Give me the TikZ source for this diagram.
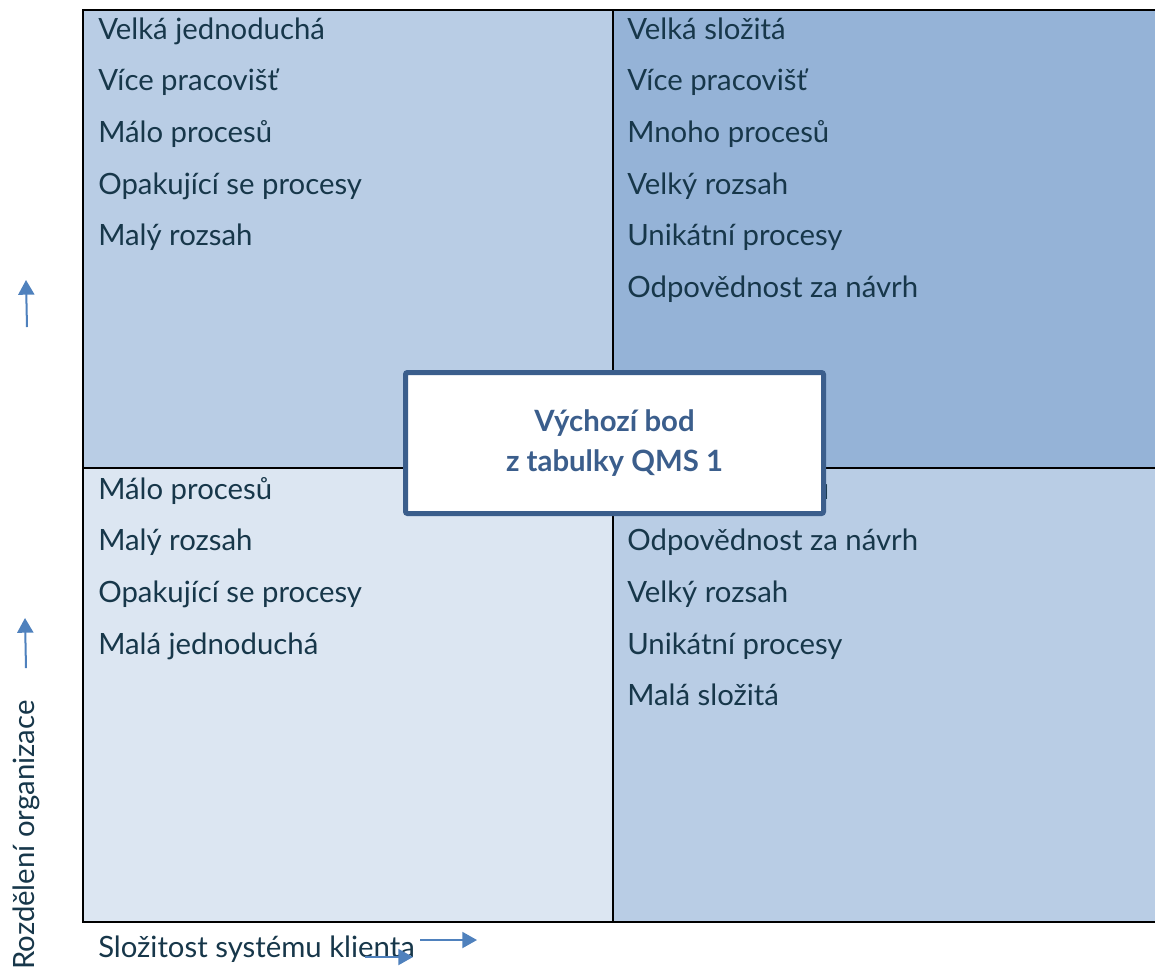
\documentclass[tikz,border=0pt]{standalone}
\usepackage{fontspec}
\setmainfont{Lato}
\usetikzlibrary{arrows.meta}
\definecolor{qlight}{HTML}{DCE6F2}
\definecolor{qmid}{HTML}{B9CDE5}
\definecolor{qdark}{HTML}{95B3D7}
\definecolor{txtdark}{HTML}{17374A}
\definecolor{boxblue}{HTML}{3B5E8C}
\definecolor{arrowblue}{HTML}{4F81BD}
% one list of lines in a quadrant: name, x, first baseline, lines
\newcommand{\quadlist}[4]{
	\foreach \t [count=\i] in {#4}
		\node[item] (#1\i) at (#2,{#3+(\i-1)*51.7}) {\t};
}

\begin{document}
\begin{tikzpicture}[x=0.75pt,y=-0.75pt,
	item/.style={anchor=base west,inner sep=0pt,text=txtdark,font=\fontsize{22}{26}\selectfont},
	pointer/.style={draw=arrowblue,line width=1.5pt,-{Triangle[length=11pt,width=12pt]}}]
	\useasboundingbox (0,0) rectangle (1155,972);
	\clip (0,0) rectangle (1155,972);

	%quadrant fills
	\fill[qmid] (83,10) rectangle (613,468);
	\fill[qdark] (613,10) rectangle (1160,468);
	\fill[qlight] (83,468) rectangle (613,922);
	\fill[qmid] (613,468) rectangle (1160,922);
	%dividers
	\draw[line width=1.5pt] (613,10) -- (613,922);
	\draw[line width=1.5pt] (83,468) -- (1160,468);
	%frame
	\draw[line width=2.2pt] (1160,10) -- (83,10) -- (83,922) -- (1160,922);

	%quadrant texts
	\quadlist{tl}{98}{39}{Velká jednoduchá, Více pracovišť, Málo procesů, Opakující se procesy, Malý rozsah}
	\quadlist{tr}{627}{39}{Velká složitá, Více pracovišť, Mnoho procesů, Velký rozsah, Unikátní procesy, Odpovědnost za návrh}
	\quadlist{bl}{98}{499}{Málo procesů, Malý rozsah, Opakující se procesy, Malá jednoduchá}
	\quadlist{br}{627}{499}{Mnoho procesů, Odpovědnost za návrh, Velký rozsah, Unikátní procesy, Malá složitá}

	%starting point
	\node[draw=boxblue, line width=3.75pt, fill=white, rounded corners=1.5pt,
		minimum width=313.5pt, minimum height=105.75pt, align=center,
		text=boxblue, font=\bfseries\fontsize{22}{30}\selectfont] (qms) at (614.5,443)
		{\raisebox{-4pt}{Výchozí bod}\\\raisebox{-4pt}{z tabulky QMS 1}};

	%axis labels
	\node[item] (xlabel) at (98,957) {Složitost systému klienta};
	\node[item, rotate=90] (ylabel) at (34,970) {Rozdělení organizace};

	%arrows
	\coordinate (up1s) at (27,327);
	\coordinate (up1e) at (26,280);
	\coordinate (up2s) at (26,668);
	\coordinate (up2e) at (25,618);
	\coordinate (rt1s) at (420,940);
	\coordinate (rt1e) at (477,940);
	\coordinate (rt2s) at (365,957);
	\coordinate (rt2e) at (413,957);
	\draw[pointer] (up1s) -- (up1e);
	\draw[pointer] (up2s) -- (up2e);
	\draw[pointer] (rt1s) -- (rt1e);
	\draw[pointer] (rt2s) -- (rt2e);
\end{tikzpicture}
\end{document}
